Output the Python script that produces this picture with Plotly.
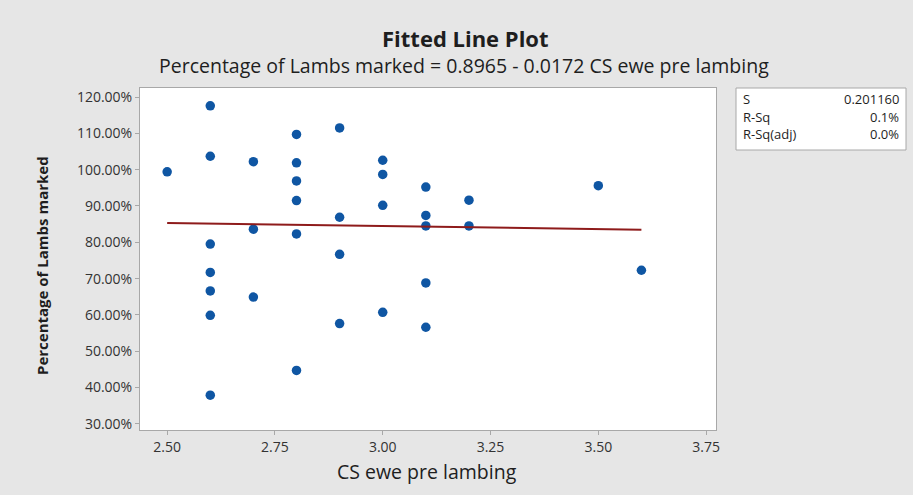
import plotly.graph_objects as go

# CS ewe pre lambing (x) and percentage of lambs marked (y, in %)
cs_score = [2.5,
            2.6, 2.6, 2.6, 2.6, 2.6, 2.6, 2.6,
            2.7, 2.7, 2.7,
            2.8, 2.8, 2.8, 2.8, 2.8, 2.8,
            2.9, 2.9, 2.9, 2.9,
            3.0, 3.0, 3.0, 3.0,
            3.1, 3.1, 3.1, 3.1, 3.1,
            3.2, 3.2,
            3.5,
            3.6]
lambs_marked = [99.4,
                117.6, 103.7, 79.5, 71.7, 66.6, 59.9, 37.9,
                102.2, 83.6, 64.9,
                109.7, 101.9, 96.9, 91.5, 82.3, 44.7,
                111.5, 86.9, 76.7, 57.6,
                102.6, 98.7, 90.2, 60.7,
                95.2, 87.4, 84.5, 68.8, 56.6,
                91.6, 84.5,
                95.6,
                72.3]

intercept = 0.8965
slope = -0.0172
fit_x = [min(cs_score), max(cs_score)]
fit_y = [(intercept + slope * v) * 100 for v in fit_x]

x_ticks = [2.50, 2.75, 3.00, 3.25, 3.50, 3.75]
y_ticks = [30, 40, 50, 60, 70, 80, 90, 100, 110, 120]

stat_names = ["S", "R-Sq", "R-Sq(adj)"]
stat_values = ["0.201160", "0.1%", "0.0%"]

FONT = "Open Sans, Noto Sans, sans-serif"
INK = "#1e1e1e"

W, H = 913, 495
PL, PR, PT, PB = 140, 716, 88, 430   # plot area edges in pixels


def px_x(p):
    return (p - PL) / (PR - PL)


def px_y(p):
    return (PB - p) / (PB - PT)


fig = go.Figure()
fig.add_trace(go.Scatter(
    x=cs_score, y=lambs_marked, mode="markers",
    marker=dict(color="#0f56a3", size=9.5, line=dict(width=0)),
    showlegend=False, hoverinfo="x+y"))
fig.add_trace(go.Scatter(
    x=fit_x, y=fit_y, mode="lines",
    line=dict(color="#8e1b1b", width=2),
    showlegend=False))

fig.update_xaxes(
    range=[2.437, 3.773], tickvals=x_ticks,
    ticktext=[f"{v:.2f}" for v in x_ticks],
    ticks="outside", ticklen=4, tickcolor="#a8a8a8",
    showgrid=False, zeroline=False,
    showline=True, linecolor="#a8a8a8", mirror=True,
    tickfont=dict(family=FONT, size=14, color="#333333"))
fig.update_yaxes(
    range=[28.3, 122.5], tickvals=y_ticks,
    ticktext=[f"{v:.2f}%" for v in y_ticks],
    ticks="outside", ticklen=4, tickcolor="#a8a8a8",
    showgrid=False, zeroline=False,
    showline=True, linecolor="#a8a8a8", mirror=True,
    tickfont=dict(family=FONT, size=14, color="#333333"))

annotations = [
    dict(text="<b>Fitted Line Plot</b>", xref="paper", yref="paper",
         x=px_x(465), y=px_y(38), xanchor="center", yanchor="middle",
         showarrow=False, font=dict(family=FONT, size=22, color=INK)),
    dict(text="Percentage of Lambs marked = 0.8965 - 0.0172 CS ewe pre lambing",
         xref="paper", yref="paper", x=px_x(464), y=px_y(65),
         xanchor="center", yanchor="middle", showarrow=False,
         font=dict(family=FONT, size=19.5, color=INK)),
    dict(text="CS ewe pre lambing", xref="paper", yref="paper",
         x=px_x(427), y=px_y(471), xanchor="center", yanchor="middle",
         showarrow=False, font=dict(family=FONT, size=19.5, color=INK)),
    dict(text="<b>Percentage of Lambs marked</b>", xref="paper", yref="paper",
         x=px_x(42), y=px_y(266), xanchor="center", yanchor="middle",
         textangle=-90, showarrow=False,
         font=dict(family=FONT, size=15, color=INK)),
]

# Summary statistics box to the right of the plot
box_x0, box_x1 = 736, 906
box_y0, box_y1 = 88, 150
row_h = 17.5
for i, (name, val) in enumerate(zip(stat_names, stat_values)):
    ypx = box_y0 + 11 + i * row_h
    annotations.append(dict(text=name, xref="paper", yref="paper",
                            x=px_x(741), y=px_y(ypx),
                            xanchor="left", yanchor="middle", showarrow=False,
                            font=dict(family=FONT, size=13, color=INK)))
    annotations.append(dict(text=val, xref="paper", yref="paper",
                            x=px_x(901), y=px_y(ypx),
                            xanchor="right", yanchor="middle", showarrow=False,
                            font=dict(family=FONT, size=13, color=INK)))

fig.update_layout(
    width=W, height=H,
    margin=dict(l=PL, r=W - PR, t=PT, b=H - PB),
    paper_bgcolor="#e6e6e6", plot_bgcolor="#ffffff",
    annotations=annotations,
    shapes=[dict(type="rect", xref="paper", yref="paper",
                 x0=px_x(box_x0), x1=px_x(box_x1),
                 y0=px_y(box_y1), y1=px_y(box_y0),
                 fillcolor="#ffffff", line=dict(color="#a8a8a8", width=1),
                 layer="above")],
)

fig.write_html("out.html")
